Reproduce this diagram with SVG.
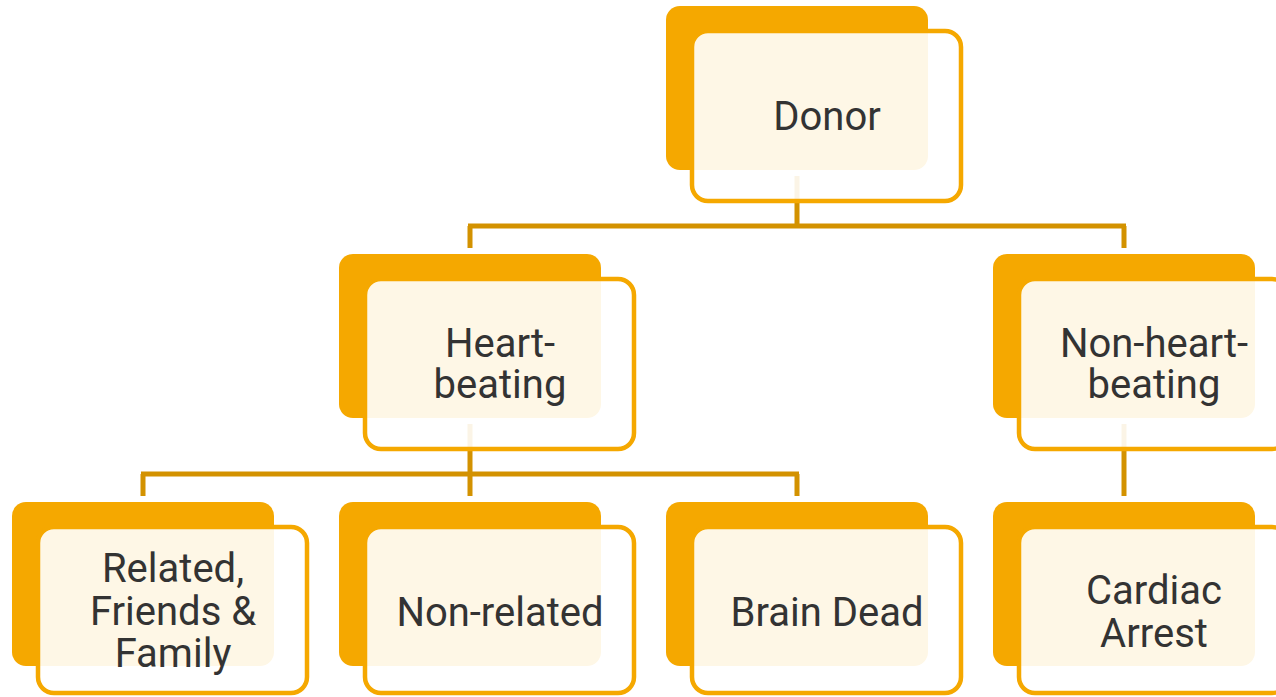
<svg xmlns="http://www.w3.org/2000/svg" width="1276" height="697" viewBox="0 0 1276 697">
  <style>
    .back { fill: #F5A800; }
    .front { fill: #FFFFFF; fill-opacity: 0.9; stroke: #F5A800; stroke-width: 4.5; }
    .link { fill: none; stroke: #D39200; stroke-width: 5; }
    .label { font-family: Roboto, "Liberation Sans", sans-serif; font-size: 40px; fill: #333333; text-anchor: middle; }
  </style>
  <rect width="1276" height="697" fill="#FFFFFF"/>

  <g id="connectors">
    <path class="link" d="M797,176 V226 M468,226 H1126 M470,226 V248 M1124,226 V248"/>
    <path class="link" d="M470,424 V474 M141,474 H799 M143,474 V496 M470,474 V496 M797,474 V496"/>
    <path class="link" d="M1124,424 V496"/>
  </g>

  <g id="node-donor">
    <rect class="back" x="666" y="6" width="262" height="164" rx="14"/>
    <rect class="front" x="692" y="31" width="269" height="170" rx="16"/>
    <text class="label" x="827" y="130">Donor</text>
  </g>

  <g id="node-heart-beating">
    <rect class="back" x="339" y="254" width="262" height="164" rx="14"/>
    <rect class="front" x="365" y="279" width="269" height="170" rx="16"/>
    <text class="label" x="500" y="357">Heart-<tspan x="500" dy="41">beating</tspan></text>
  </g>

  <g id="node-non-heart-beating">
    <rect class="back" x="993" y="254" width="262" height="164" rx="14"/>
    <rect class="front" x="1019" y="279" width="269" height="170" rx="16"/>
    <text class="label" x="1154" y="357">Non-heart-<tspan x="1154" dy="41">beating</tspan></text>
  </g>

  <g id="node-related">
    <rect class="back" x="12" y="502" width="262" height="164" rx="14"/>
    <rect class="front" x="38" y="527" width="269" height="166" rx="16"/>
    <text class="label" x="173" y="582">Related,<tspan x="173" dy="43">Friends &amp;</tspan><tspan x="173" dy="42">Family</tspan></text>
  </g>

  <g id="node-non-related">
    <rect class="back" x="339" y="502" width="262" height="164" rx="14"/>
    <rect class="front" x="365" y="527" width="269" height="166" rx="16"/>
    <text class="label" x="500" y="626">Non-related</text>
  </g>

  <g id="node-brain-dead">
    <rect class="back" x="666" y="502" width="262" height="164" rx="14"/>
    <rect class="front" x="692" y="527" width="269" height="166" rx="16"/>
    <text class="label" x="827" y="626">Brain Dead</text>
  </g>

  <g id="node-cardiac-arrest">
    <rect class="back" x="993" y="502" width="262" height="164" rx="14"/>
    <rect class="front" x="1019" y="527" width="269" height="166" rx="16"/>
    <text class="label" x="1154" y="604">Cardiac<tspan x="1154" dy="43">Arrest</tspan></text>
  </g>
</svg>
